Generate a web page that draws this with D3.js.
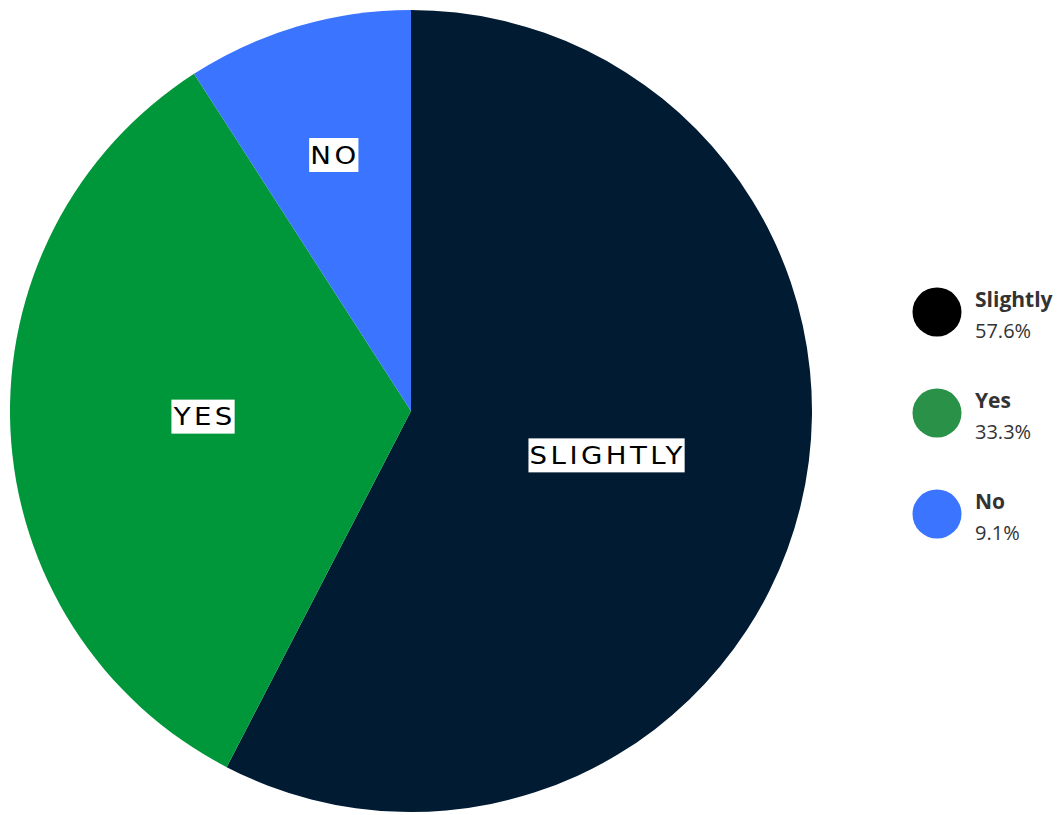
<!DOCTYPE html>
<html>
<head>
<meta charset="utf-8">
<script src="https://cdn.jsdelivr.net/npm/d3@7"></script>
<style>
  html, body { margin: 0; padding: 0; background: #ffffff; }
  svg { display: block; }
</style>
</head>
<body>
<svg id="chart" width="1064" height="815"></svg>
<script>
// Survey answers and their shares (percent)
const categories = ["Slightly", "Yes", "No"];
const values = [57.6, 33.3, 9.1];
const sliceLabels = ["SLIGHTLY", "YES", "NO"];
const sliceColors = ["#011b33", "#00963a", "#3b74ff"];
const legendColors = ["#000000", "#2a9148", "#3b74ff"];

const svg = d3.select("#chart");
const cx = 411, cy = 411, R = 401;

const data = categories.map((c, i) => ({ name: c, value: values[i], label: sliceLabels[i], i }));

const pie = d3.pie().sort(null).value(d => d.value);
const arcs = pie(data);
const arc = d3.arc().innerRadius(0).outerRadius(R);

const g = svg.append("g").attr("transform", `translate(${cx},${cy})`);

g.selectAll("path.slice")
  .data(arcs)
  .join("path")
  .attr("class", "slice")
  .attr("d", arc)
  .attr("fill", d => sliceColors[d.data.i]);

// Slice labels: black text on a white box; small slices get labels further out
const labelG = g.selectAll("g.lbl")
  .data(arcs)
  .join("g")
  .attr("class", "lbl")
  .attr("transform", d => {
    const share = (d.endAngle - d.startAngle) / (2 * Math.PI);
    const r = share < 0.15 ? R * 0.655 : R * 0.51;
    const a = (d.startAngle + d.endAngle) / 2;
    return `translate(${r * Math.sin(a) - 2},${-r * Math.cos(a) - 4})`;
  });

labelG.each(function(d) {
  const sel = d3.select(this);
  const inner = sel.append("g").attr("transform", "scale(1.15,1)");
  const t = inner.append("text")
    .attr("text-anchor", "middle")
    .attr("dy", "0.36em")
    .attr("font-family", "'DejaVu Sans', sans-serif")
    .attr("font-size", 24)
    .attr("letter-spacing", 3)
    .attr("fill", "#000000")
    .text(d.data.label);
  const bb = t.node().getBBox();
  inner.insert("rect", "text")
    .attr("x", bb.x - 1)
    .attr("y", -17)
    .attr("width", bb.width)
    .attr("height", 34)
    .attr("fill", "#ffffff");
});

// Legend
const legend = svg.append("g").attr("transform", "translate(937,312)");
const step = 101;
const items = legend.selectAll("g.item")
  .data(data)
  .join("g")
  .attr("class", "item")
  .attr("transform", (d, i) => `translate(0,${i * step})`);

items.append("circle")
  .attr("r", 24.5)
  .attr("fill", d => legendColors[d.i]);

items.append("text")
  .attr("x", 38)
  .attr("y", -5)
  .attr("font-family", "'Open Sans', sans-serif")
  .attr("font-weight", 700)
  .attr("font-size", 21)
  .attr("fill", "#333333")
  .text(d => d.name);

items.append("text")
  .attr("x", 38)
  .attr("y", 26)
  .attr("font-family", "'Open Sans', sans-serif")
  .attr("font-size", 20)
  .attr("fill", "#333333")
  .text(d => d.value.toFixed(1) + "%");
</script>
</body>
</html>
